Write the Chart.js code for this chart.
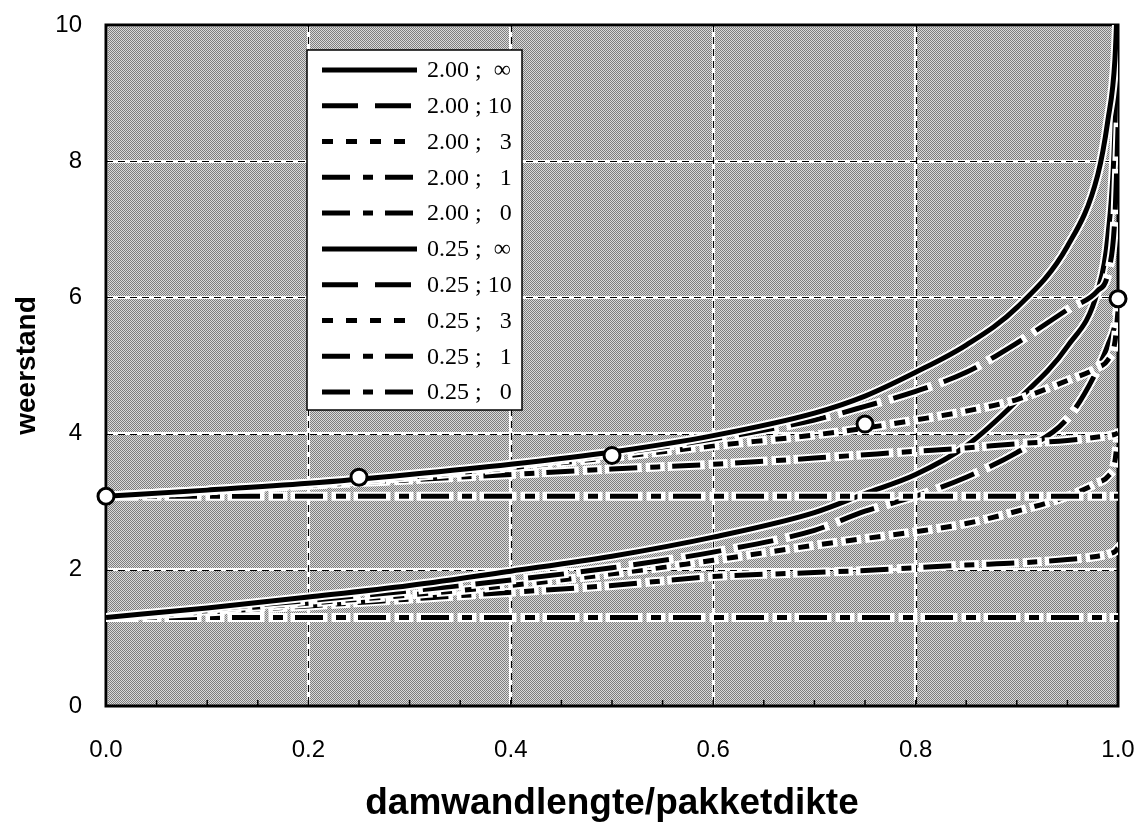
<!DOCTYPE html>
<html>
<head>
<meta charset="utf-8">
<script src="https://cdn.jsdelivr.net/npm/chart.js@4.4.0/dist/chart.umd.min.js"></script>
<style>
    body { margin: 0; background: #fff; }
</style>
</head>
<body>
<canvas id="lineChart" width="1139" height="822"></canvas>
<script>
// x = damwandlengte/pakketdikte
const xValues = [0, 0.1, 0.2, 0.3, 0.4, 0.5, 0.6, 0.7, 0.75, 0.8, 0.85, 0.9, 0.95, 0.98, 0.99, 0.997, 1.0];

// groep 2.00
const w200inf = [3.08, 3.17, 3.27, 3.40, 3.55, 3.73, 3.97, 4.30, 4.55, 4.90, 5.30, 5.85, 6.75, 7.80, 8.60, 9.50, 10.6];
const w200r10 = [3.08, 3.17, 3.27, 3.39, 3.53, 3.70, 3.92, 4.20, 4.40, 4.62, 4.90, 5.33, 5.82, 6.10, 6.35, 7.20, 8.50];
const w200r3  = [3.08, 3.16, 3.25, 3.36, 3.50, 3.65, 3.82, 3.98, 4.08, 4.20, 4.33, 4.50, 4.78, 4.97, 5.08, 5.35, 5.80];
const w200r1  = [3.08, 3.16, 3.24, 3.32, 3.40, 3.48, 3.55, 3.64, 3.69, 3.74, 3.79, 3.85, 3.90, 3.95, 3.97, 3.99, 4.01];
const w200r0  = [3.08, 3.08, 3.08, 3.08, 3.08, 3.08, 3.08, 3.08, 3.08, 3.08, 3.08, 3.08, 3.08, 3.08, 3.08, 3.08, 3.08];

// groep 0.25
const w025inf = [1.30, 1.44, 1.60, 1.77, 1.98, 2.20, 2.48, 2.84, 3.12, 3.40, 3.82, 4.48, 5.28, 6.10, 6.90, 8.50, 10.6];
const w025r10 = [1.30, 1.42, 1.55, 1.69, 1.85, 2.03, 2.26, 2.58, 2.86, 3.08, 3.36, 3.72, 4.22, 4.95, 5.30, 5.60, 5.90];
const w025r3  = [1.30, 1.40, 1.51, 1.63, 1.77, 1.94, 2.14, 2.36, 2.46, 2.56, 2.68, 2.86, 3.08, 3.28, 3.37, 3.60, 4.00];
const w025r1  = [1.30, 1.38, 1.47, 1.57, 1.67, 1.77, 1.90, 1.96, 1.99, 2.03, 2.07, 2.10, 2.15, 2.20, 2.23, 2.27, 2.32];
const w025r0  = [1.30, 1.30, 1.30, 1.30, 1.30, 1.30, 1.30, 1.30, 1.30, 1.30, 1.30, 1.30, 1.30, 1.30, 1.30, 1.30, 1.30];

// losse punten (open rondjes)
const circleX = [0, 0.25, 0.5, 0.75, 1.0];
const circleY = [3.08, 3.36, 3.68, 4.14, 5.98];

const seriesLabels = ['2.00 ;  \u221e', '2.00 ; 10', '2.00 ;   3', '2.00 ;   1', '2.00 ;   0',
                      '0.25 ;  \u221e', '0.25 ; 10', '0.25 ;   3', '0.25 ;   1', '0.25 ;   0'];
const seriesValues = [w200inf, w200r10, w200r3, w200r1, w200r0, w025inf, w025r10, w025r3, w025r1, w025r0];

const xTicks = [0, 0.2, 0.4, 0.6, 0.8, 1.0];
const yTicks = [0, 2, 4, 6, 8, 10];

const dashes = {
    inf: [],
    r10: [36, 17],
    r3: [11, 13],
    r1: [28, 13, 10, 12],
    r0: [28, 13, 10, 12]
};
const dashOrder = ['inf', 'r10', 'r3', 'r1', 'r0'];

function stipple(ctx) {
    const c = document.createElement('canvas');
    c.width = 2; c.height = 2;
    const p = c.getContext('2d');
    p.fillStyle = '#dadada';
    p.fillRect(0, 0, 2, 2);
    p.fillStyle = '#7e7e7e';
    p.fillRect(0, 0, 1, 1);
    p.fillRect(1, 1, 1, 1);
    return ctx.createPattern(c, 'repeat');
}

// grijze achtergrond in het plotvlak
const plotBackground = {
    id: 'plotBackground',
    beforeDraw(chart) {
        const { ctx, chartArea: a } = chart;
        ctx.save();
        ctx.fillStyle = stipple(ctx);
        ctx.fillRect(a.left, a.top, a.width, a.height);
        ctx.restore();
    }
};

// zwarte streepjes in de witte rasterlijnen, kleine tickjes, kader
const plotFrame = {
    id: 'plotFrame',
    beforeDatasetsDraw(chart) {
        const { ctx, chartArea: a, scales } = chart;
        ctx.save();
        ctx.strokeStyle = '#000';
        ctx.lineWidth = 1.2;
        ctx.setLineDash([7, 5]);
        xTicks.slice(1, -1).forEach(v => {
            const px = Math.round(scales.x.getPixelForValue(v)) + 0.5;
            ctx.beginPath(); ctx.moveTo(px, a.top); ctx.lineTo(px, a.bottom); ctx.stroke();
        });
        yTicks.slice(1, -1).forEach(v => {
            const py = Math.round(scales.y.getPixelForValue(v)) + 0.5;
            ctx.beginPath(); ctx.moveTo(a.left, py); ctx.lineTo(a.right, py); ctx.stroke();
        });
        ctx.setLineDash([]);
        ctx.lineWidth = 1.5;
        for (let i = 1; i < 20; i++) {
            const px = scales.x.getPixelForValue(i * 0.05);
            ctx.beginPath(); ctx.moveTo(px, a.bottom); ctx.lineTo(px, a.bottom - 6); ctx.stroke();
        }
        ctx.lineWidth = 3;
        ctx.strokeRect(a.left, a.top, a.width, a.height);
        ctx.restore();
    }
};

// witte rand om de lijnen
const lineHalo = {
    id: 'lineHalo',
    beforeDatasetDraw(chart, args) {
        const ds = chart.data.datasets[args.index];
        const line = args.meta.dataset;
        if (!line || ds.showLine === false) return;
        const opts = line.options;
        line.options = Object.assign({}, opts, {
            borderColor: '#fff',
            borderWidth: opts.borderWidth + 4,
            borderCapStyle: 'square'
        });
        const { ctx, chartArea: a } = chart;
        ctx.save();
        ctx.beginPath();
        ctx.rect(a.left, a.top, a.width, a.height);
        ctx.clip();
        line.draw(ctx, a);
        ctx.restore();
        line.options = opts;
    }
};

// legenda in het plotvlak
const boxLegend = {
    id: 'boxLegend',
    afterDatasetsDraw(chart) {
        const ctx = chart.ctx;
        const left = 307, top = 50, right = 522, bottom = 410;
        ctx.save();
        ctx.fillStyle = '#fff';
        ctx.fillRect(left, top, right - left, bottom - top);
        ctx.strokeStyle = '#000';
        ctx.lineWidth = 1.5;
        ctx.strokeRect(left, top, right - left, bottom - top);
        ctx.font = '24px "Liberation Serif", "Times New Roman", serif';
        ctx.fillStyle = '#000';
        ctx.textBaseline = 'middle';
        const step = (392 - 70) / 9;
        chart.data.datasets.slice(1).forEach((ds, i) => {
            const y = 70 + i * step;
            ctx.lineWidth = 5;
            ctx.lineCap = 'butt';
            ctx.setLineDash(ds.borderDash);
            ctx.beginPath(); ctx.moveTo(322, y); ctx.lineTo(417, y); ctx.stroke();
            ctx.setLineDash([]);
            ctx.fillText(ds.label, 427, y + 1);
        });
        ctx.restore();
    }
};

const datasets = [{
    label: 'punten',
    data: circleX.map((x, i) => ({ x: x, y: circleY[i] })),
    showLine: false,
    pointRadius: 8,
    pointBackgroundColor: '#fff',
    pointBorderColor: '#000',
    pointBorderWidth: 3,
    clip: false
}];

seriesValues.forEach((values, i) => {
    datasets.push({
        label: seriesLabels[i],
        data: xValues.map((x, j) => ({ x: x, y: values[j] })),
        borderColor: '#000',
        borderWidth: 5,
        borderDash: dashes[dashOrder[i % 5]],
        borderCapStyle: 'butt',
        pointRadius: 0,
        cubicInterpolationMode: 'monotone',
        fill: false
    });
});

new Chart(document.getElementById('lineChart'), {
    type: 'line',
    data: { datasets: datasets },
    options: {
        responsive: false,
        animation: false,
        events: [],
        layout: { padding: { top: 25, right: 21, left: 0, bottom: 0 } },
        plugins: {
            legend: { display: false },
            tooltip: { enabled: false }
        },
        scales: {
            x: {
                type: 'linear',
                min: 0,
                max: 1,
                afterBuildTicks: axis => { axis.ticks = xTicks.map(v => ({ value: v })); },
                afterFit: axis => {
                    axis.height = 116;
                    axis.paddingLeft = 0;
                    axis.paddingRight = 0;
                },
                grid: { color: '#fff', lineWidth: 3, drawTicks: false },
                border: { display: false },
                ticks: {
                    padding: 30,
                    color: '#000',
                    font: { family: '"Liberation Sans", Arial, sans-serif', size: 24 },
                    callback: v => v.toFixed(1)
                },
                title: {
                    display: true,
                    text: 'damwandlengte/pakketdikte',
                    color: '#000',
                    font: { family: '"Liberation Sans", Arial, sans-serif', size: 37, weight: 'bold', lineHeight: 1 },
                    padding: { top: 0, bottom: 0 }
                }
            },
            y: {
                min: 0,
                max: 10,
                afterBuildTicks: axis => { axis.ticks = yTicks.map(v => ({ value: v })); },
                afterFit: axis => {
                    axis.width = 106;
                    axis.paddingTop = 0;
                    axis.paddingBottom = 0;
                },
                grid: { color: '#fff', lineWidth: 3, drawTicks: false },
                border: { display: false },
                ticks: {
                    padding: 24,
                    color: '#000',
                    font: { family: '"Liberation Sans", Arial, sans-serif', size: 24 }
                },
                title: {
                    display: true,
                    text: 'weerstand',
                    color: '#000',
                    font: { family: '"Liberation Sans", Arial, sans-serif', size: 28, weight: 'bold', lineHeight: 1 },
                    padding: { top: 13, bottom: 0 }
                }
            }
        }
    },
    plugins: [plotBackground, plotFrame, lineHalo, boxLegend]
});
</script>
</body>
</html>
